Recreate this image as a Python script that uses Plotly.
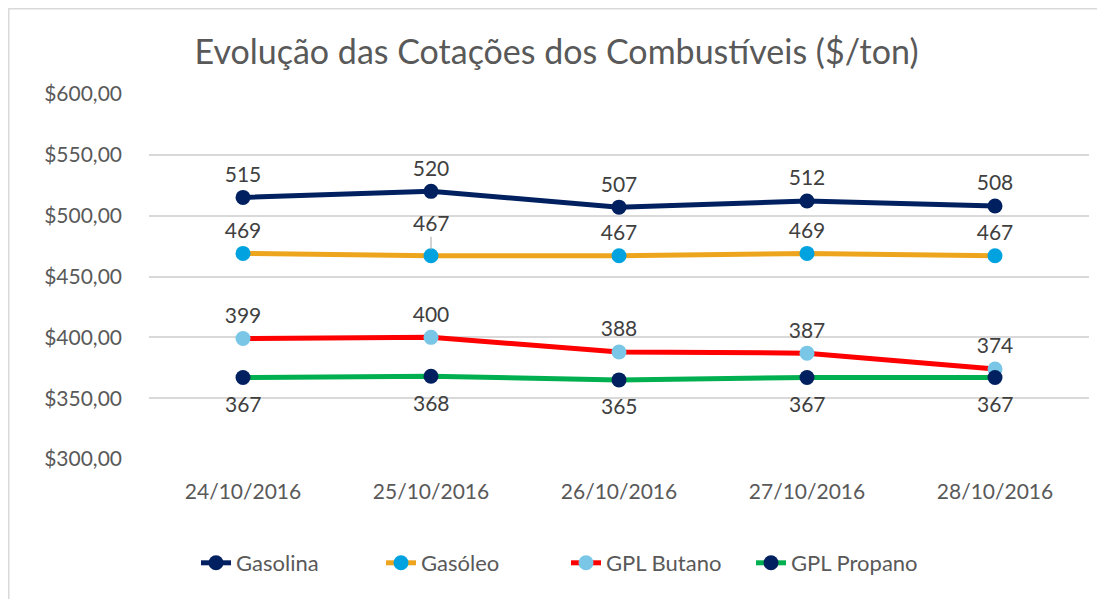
import plotly.graph_objects as go

categories = ["24/10/2016", "25/10/2016", "26/10/2016", "27/10/2016", "28/10/2016"]
gasolina = [515, 520, 507, 512, 508]
gasoleo = [469, 467, 467, 469, 467]
butano = [399, 400, 388, 387, 374]
propano = [367, 368, 365, 367, 367]
y_tickvals = [300, 350, 400, 450, 500, 550, 600]
y_ticktext = ["$300,00", "$350,00", "$400,00", "$450,00", "$500,00", "$550,00", "$600,00"]

FONT = "Lato"
LABEL_COLOR = "#404040"

series = [
    ("Gasolina", gasolina, "#002060", "#002060", "top center"),
    ("Gasóleo", gasoleo, "#EDA51E", "#00A3E0", "top center"),
    ("GPL Butano", butano, "#FF0000", "#79C6E6", "top center"),
    ("GPL Propano", propano, "#00B050", "#002060", None),
]

W, H = 1097, 591
L, R, T, B = 141, 16, 86, 140
PW, PH = W - L - R, H - T - B

fig = go.Figure()
for name, vals, lc, mc, pos in series:
    texts = [str(v) for v in vals]
    if name == "Gasóleo":
        texts[1] = ""
    if pos is None:
        mode = "lines+markers"
    else:
        mode = "lines+markers+text"
    fig.add_trace(go.Scatter(
        x=categories, y=vals, name=name, mode=mode,
        line=dict(color=lc, width=5),
        marker=dict(color=mc, size=15),
        text=texts if pos else None, textposition=pos if pos else None,
        textfont=dict(family=FONT, size=21, color=LABEL_COLOR),
        hoverinfo="skip",
    ))

# labels below the GPL Propano points
for c, v in zip(categories, propano):
    fig.add_annotation(x=c, y=v, text=str(v), showarrow=False, yshift=-26,
                       font=dict(family=FONT, size=21, color=LABEL_COLOR))

# displaced label with leader line
fig.add_annotation(x=categories[1], y=gasoleo[1], text=str(gasoleo[1]),
                   showarrow=True, arrowhead=0, arrowwidth=1, arrowcolor="#A6A6A6",
                   ax=0, ay=-33, standoff=6,
                   font=dict(family=FONT, size=21, color=LABEL_COLOR))

fig.add_shape(type="rect", xref="paper", yref="paper",
              x0=(0.75 - L) / PW, x1=1.05, y0=-0.45, y1=(PH + T - 0.75) / PH,
              line=dict(color="#D9D9D9", width=1.5), fillcolor="rgba(0,0,0,0)", layer="below")

fig.update_layout(
    width=W, height=H,
    margin=dict(l=L, r=R, t=T, b=B),
    paper_bgcolor="white", plot_bgcolor="white",
    title=dict(text="Evolução das Cotações dos Combustíveis ($/ton)",
               x=0.5, xanchor="center", y=1 - 44 / H, yanchor="middle",
               font=dict(family=FONT, size=34, color="#595959")),
    font=dict(family=FONT, color="#595959"),
    xaxis=dict(type="category", range=[-0.5, 4.5], showgrid=False, showline=False,
               zeroline=False, ticks="", tickfont=dict(family=FONT, size=21, color="#595959"),
               ticklabelstandoff=18),
    yaxis=dict(range=[300, 600], tickvals=y_tickvals, ticktext=y_ticktext,
               showgrid=True, gridcolor="#D9D9D9", gridwidth=1.5, zeroline=False, showline=False,
               ticks="", tickfont=dict(family=FONT, size=21, color="#595959"),
               ticklabelstandoff=26),
    showlegend=True,
    legend=dict(orientation="h", x=(566 - 8 - L) / PW, xanchor="center",
                y=-(555 - T - PH) / PH, yanchor="middle",
                font=dict(family=FONT, size=22, color="#595959"),
                itemwidth=30, entrywidth=140, entrywidthmode="pixels", tracegroupgap=0),
)

fig.write_html("out.html")
